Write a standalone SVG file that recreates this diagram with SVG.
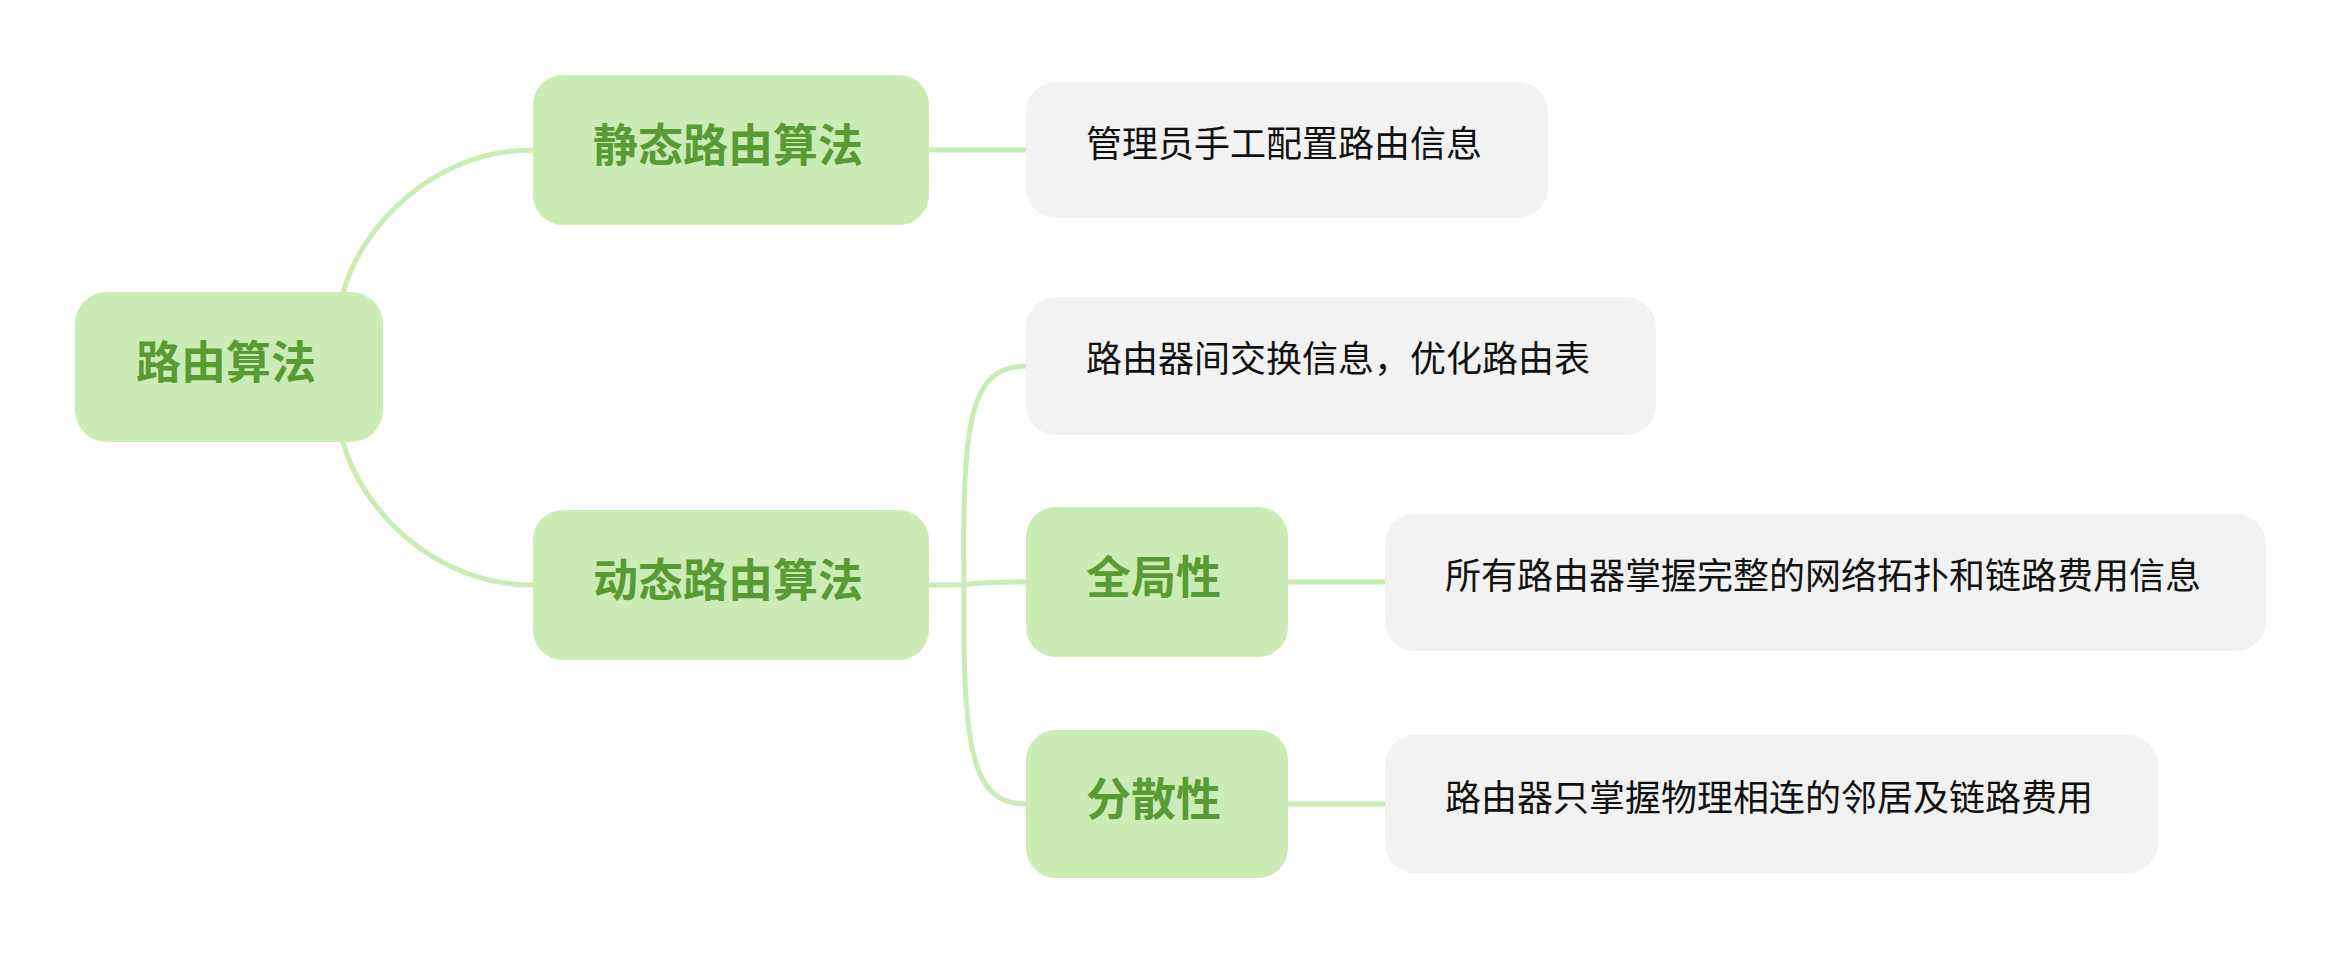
<svg xmlns="http://www.w3.org/2000/svg" width="2342" height="954" viewBox="0 0 2342 954">
<style>
.g{fill:#cbecb5}
.l{fill:#f2f2f2}
.gt{font-family:"Noto Sans CJK SC","Noto Sans",sans-serif;font-weight:700;font-size:45px;fill:#5a9a35;dominant-baseline:central}
.lt{font-family:"Noto Sans CJK SC","Noto Sans",sans-serif;font-weight:400;font-size:36px;fill:#111;dominant-baseline:central}
.c{fill:none;stroke:#cbecb5;stroke-width:5;stroke-linecap:round}
</style>
<rect width="2342" height="954" fill="#fff"/>
<g id="connectors">
<path class="c" d="M343,293 C360,230 430,150 533,150"/>
<path class="c" d="M343,442 C360,505 430,585 533,585"/>
<path class="c" d="M929,150 L1026,150"/>
<path class="c" d="M929,585 L964,585 C962,420 970,366 1026,366"/>
<path class="c" d="M964,585 C980,582 1000,582 1026,582"/>
<path class="c" d="M964,585 C962,760 975,804 1026,804"/>
<path class="c" d="M1288,582 L1385,582"/>
<path class="c" d="M1288,804 L1385,804"/>
</g>
<g id="root"><rect class="g" x="75" y="292" width="308" height="150" rx="32"/><text class="gt" x="136" y="359">路由算法</text></g>
<g id="static"><rect class="g" x="533" y="75" width="396" height="150" rx="30"/><text class="gt" x="593" y="142">静态路由算法</text></g>
<g id="dynamic"><rect class="g" x="533" y="510" width="396" height="150" rx="30"/><text class="gt" x="593" y="577">动态路由算法</text></g>
<g id="leaf-static"><rect class="l" x="1026" y="82" width="522" height="136" rx="30"/><text class="lt" x="1086" y="141">管理员手工配置路由信息</text></g>
<g id="leaf-exchange"><rect class="l" x="1026" y="297" width="630" height="138" rx="30"/><text class="lt" x="1086" y="356">路由器间交换信息，优化路由表</text></g>
<g id="global"><rect class="g" x="1026" y="507" width="262" height="150" rx="30"/><text class="gt" x="1086" y="574">全局性</text></g>
<g id="distributed"><rect class="g" x="1026" y="730" width="262" height="148" rx="30"/><text class="gt" x="1086" y="796">分散性</text></g>
<g id="leaf-global"><rect class="l" x="1385" y="514" width="881" height="137" rx="30"/><text class="lt" x="1445" y="573">所有路由器掌握完整的网络拓扑和链路费用信息</text></g>
<g id="leaf-distributed"><rect class="l" x="1385" y="735" width="773" height="138" rx="30"/><text class="lt" x="1445" y="795">路由器只掌握物理相连的邻居及链路费用</text></g>
</svg>
